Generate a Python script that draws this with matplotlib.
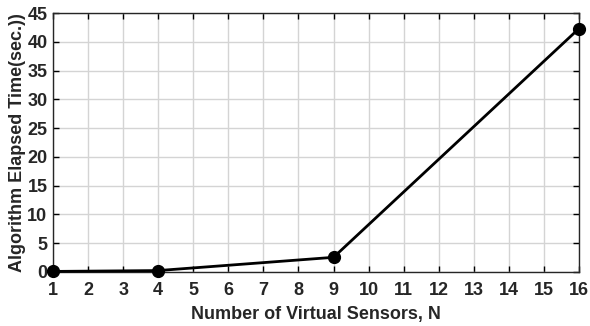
import matplotlib.pyplot as plt

# data
sensors = [1, 4, 9, 16]
elapsed_time = [0.1, 0.25, 2.55, 42.3]

x_ticks = list(range(1, 17))
y_ticks = list(range(0, 46, 5))

plt.rcParams["font.family"] = ["Liberation Sans", "DejaVu Sans"]
plt.rcParams["font.weight"] = "bold"
plt.rcParams["text.color"] = "#262626"
plt.rcParams["xtick.labelcolor"] = "#262626"
plt.rcParams["ytick.labelcolor"] = "#262626"
plt.rcParams["axes.labelcolor"] = "#262626"

fig = plt.figure(figsize=(5.9, 3.26), dpi=100)
ax = fig.add_axes([53 / 590, 1 - 272 / 326, (579 - 53) / 590, (272 - 13) / 326])

ax.plot(sensors, elapsed_time, color="black", linewidth=2, marker="o", markersize=8.5, clip_on=False, zorder=3)

ax.set_xlim(1, 16)
ax.set_ylim(0, 45)
ax.set_xticks(x_ticks)
ax.set_yticks(y_ticks)
ax.grid(True, color="#d4d4d4", linewidth=1)
ax.set_axisbelow(True)
ax.tick_params(direction="in", top=True, right=True, length=4, width=1, labelsize=13)
ax.tick_params(axis="x", pad=7)
ax.tick_params(axis="y", pad=4)
for spine in ax.spines.values():
    spine.set_linewidth(1)
    spine.set_color("#262626")

ax.set_xlabel("Number of Virtual Sensors, N", fontsize=13, fontweight="bold", labelpad=5)
ax.set_ylabel("Algorithm Elapsed Time(sec.))", fontsize=13, fontweight="bold", labelpad=1)

fig.savefig("out.png", dpi=100)
